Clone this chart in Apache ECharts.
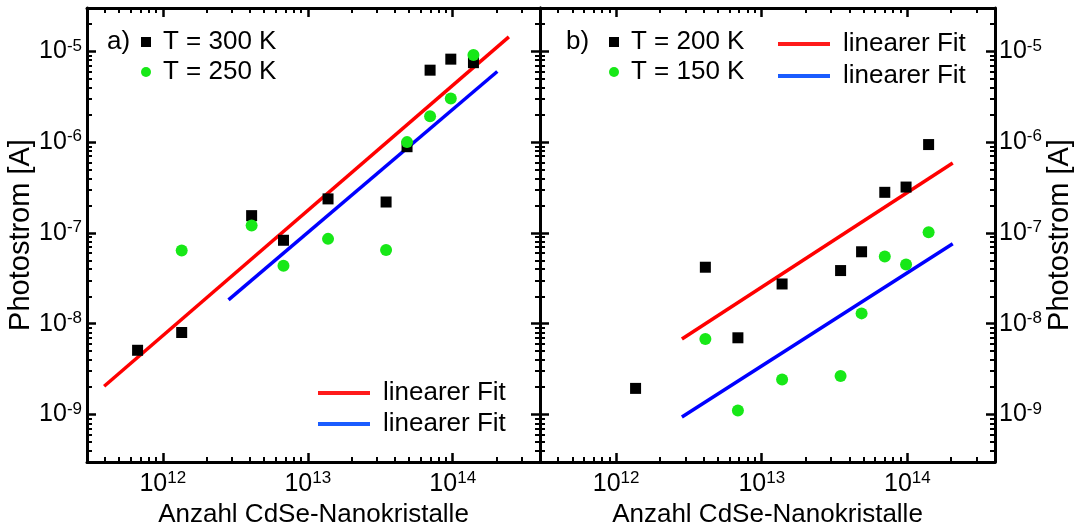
<!DOCTYPE html>
<html><head><meta charset="utf-8">
<script src="https://cdn.jsdelivr.net/npm/echarts@6/dist/echarts.min.js"></script>
<style>html,body{margin:0;padding:0;background:#fff}#c{width:1076px;height:528px}</style>
</head><body><div id="c"></div>
<script>
const FONT = '"Liberation Sans", Arial, Helvetica, sans-serif';

// ---- axis ranges and ticks ----
const xRange = [3e11, 4e14];
const yRange = [3e-10, 3e-5];
const xMajorTicks = [1e12, 1e13, 1e14];
const xMinorTicks = [4e11, 5e11, 6e11, 7e11, 8e11, 9e11,
  2e12, 3e12, 4e12, 5e12, 6e12, 7e12, 8e12, 9e12,
  2e13, 3e13, 4e13, 5e13, 6e13, 7e13, 8e13, 9e13,
  2e14, 3e14];
const yMajorTicks = [1e-9, 1e-8, 1e-7, 1e-6, 1e-5];
const yMinorTicks = [4e-10, 5e-10, 6e-10, 7e-10, 8e-10, 9e-10,
  2e-9, 3e-9, 4e-9, 5e-9, 6e-9, 7e-9, 8e-9, 9e-9,
  2e-8, 3e-8, 4e-8, 5e-8, 6e-8, 7e-8, 8e-8, 9e-8,
  2e-7, 3e-7, 4e-7, 5e-7, 6e-7, 7e-7, 8e-7, 9e-7,
  2e-6, 3e-6, 4e-6, 5e-6, 6e-6, 7e-6, 8e-6, 9e-6,
  2e-5];

// ---- panel a) data ----
const xA300 = [6.7e11, 1.35e12, 4.1e12, 6.8e12, 1.38e13, 3.47e13, 4.84e13, 6.98e13, 9.7e13, 1.39e14];
const yA300 = [5.1e-9, 8.0e-9, 1.55e-7, 8.3e-8, 2.37e-7, 2.19e-7, 8.9e-7, 6.2e-6, 8.2e-6, 7.5e-6];
const xA250 = [1.35e12, 4.1e12, 6.8e12, 1.38e13, 3.47e13, 4.84e13, 6.98e13, 9.7e13, 1.39e14];
const yA250 = [6.4e-8, 1.21e-7, 4.35e-8, 8.6e-8, 6.5e-8, 1.0e-6, 1.93e-6, 3.03e-6, 9.1e-6];
const fitA300x = [3.94e11, 2.44e14];
const fitA300y = [2.05e-9, 1.44e-5];
const fitA250x = [2.84e12, 2.03e14];
const fitA250y = [1.83e-8, 6.0e-6];

// ---- panel b) data ----
const xB200 = [1.36e12, 4.1e12, 6.86e12, 1.38e13, 3.48e13, 4.85e13, 7.0e13, 9.8e13, 1.4e14];
const yB200 = [1.94e-9, 4.19e-8, 7.0e-9, 2.74e-8, 3.85e-8, 6.2e-8, 2.8e-7, 3.2e-7, 9.4e-7];
const xB150 = [4.1e12, 6.86e12, 1.38e13, 3.48e13, 4.85e13, 7.0e13, 9.8e13, 1.4e14];
const yB150 = [6.8e-9, 1.11e-9, 2.43e-9, 2.65e-9, 1.30e-8, 5.5e-8, 4.5e-8, 1.02e-7];
const fitB200x = [2.83e12, 2.05e14];
const fitB200y = [6.8e-9, 5.9e-7];
const fitB150x = [2.83e12, 2.05e14];
const fitB150y = [9.4e-10, 7.6e-8];

const labelsText = {
  xTitle: 'Anzahl CdSe-Nanokristalle',
  yTitle: 'Photostrom [A]',
  fit: 'linearer Fit',
  a: 'a)', b: 'b)'
};

function zip(xs, ys) { return xs.map((x, i) => [x, ys[i]]); }

const supRich = {
  b: { fontSize: 25, lineHeight: 28, fontFamily: FONT, color: '#000' },
  s: { fontSize: 17, lineHeight: 17, verticalAlign: 'top', fontFamily: FONT, color: '#000' }
};
function powLabel(v) {
  const e = Math.round(Math.log10(v));
  return '{b|10}{s|' + e + '}';
}

function mkAxis(kind, grid, pos, major, opts) {
  const range = kind === 'x' ? xRange : yRange;
  const ticks = major ? (kind === 'x' ? xMajorTicks : yMajorTicks) : (kind === 'x' ? xMinorTicks : yMinorTicks);
  const a = {
    type: 'log', logBase: 10, gridIndex: grid, position: pos,
    min: range[0], max: range[1],
    axisLine: { show: major, onZero: false, lineStyle: { color: '#000', width: 3 } },
    axisTick: { show: true, inside: true, length: major ? 9 : 5, customValues: ticks,
      lineStyle: { color: '#000', width: major ? 2.5 : 2 } },
    axisLabel: { show: false },
    splitLine: { show: false }, minorTick: { show: false }, minorSplitLine: { show: false }
  };
  if (opts && opts.labels) {
    a.axisLabel = { show: true, customValues: ticks, formatter: powLabel, rich: supRich,
      margin: opts.margin, hideOverlap: false };
  }
  if (opts && opts.name) {
    a.name = opts.name; a.nameLocation = 'middle'; a.nameGap = opts.nameGap;
    a.nameTextStyle = { fontSize: opts.nameSize, fontFamily: FONT, color: '#000' };
  }
  return a;
}

const xAxes = [
  mkAxis('x', 0, 'bottom', true, { labels: true, margin: 8, name: labelsText.xTitle, nameGap: 35, nameSize: 26 }),
  mkAxis('x', 1, 'bottom', true, { labels: true, margin: 8, name: labelsText.xTitle, nameGap: 35, nameSize: 26 }),
  mkAxis('x', 0, 'bottom', false), mkAxis('x', 0, 'top', true), mkAxis('x', 0, 'top', false),
  mkAxis('x', 1, 'bottom', false), mkAxis('x', 1, 'top', true), mkAxis('x', 1, 'top', false)
];
const yAxes = [
  mkAxis('y', 0, 'left', true, { labels: true, margin: 5, name: labelsText.yTitle, nameGap: 51, nameSize: 29 }),
  mkAxis('y', 1, 'right', true, { labels: true, margin: 4, name: labelsText.yTitle, nameGap: 50, nameSize: 29 }),
  mkAxis('y', 0, 'left', false), mkAxis('y', 0, 'right', true), mkAxis('y', 0, 'right', false),
  mkAxis('y', 1, 'left', false), mkAxis('y', 1, 'left', true), mkAxis('y', 1, 'right', false)
];

const GREEN = '#17e817';
function scatter(name, g, sym, color, xs, ys) {
  return { type: 'scatter', name, xAxisIndex: g, yAxisIndex: g, symbol: sym, symbolSize: sym === 'rect' ? 11 : 12,
    itemStyle: { color, opacity: 1 }, data: zip(xs, ys), z: 5, animation: false };
}
function fit(name, g, color, xs, ys) {
  return { type: 'line', name, xAxisIndex: g, yAxisIndex: g, symbol: 'none', showSymbol: false,
    lineStyle: { color, width: 3.5 }, itemStyle: { color }, data: zip(xs, ys), z: 3, animation: false, silent: true };
}

const legendText = { fontSize: 26, fontFamily: FONT, color: '#000' };
const fitFormatter = n => n.indexOf(labelsText.fit) === 0 ? labelsText.fit : n;
const LEG_RED = '#ff1a1a', LEG_BLUE = '#1a5cff';

function fitLegend(names, left, top, gap) {
  return { data: [ { name: names[0], itemStyle: { color: LEG_RED } }, { name: names[1], itemStyle: { color: LEG_BLUE } } ],
    orient: 'vertical', left, top, padding: 0, icon: 'rect', symbolKeepAspect: false,
    itemWidth: 52, itemHeight: 4, itemGap: gap, selectedMode: false, formatter: fitFormatter,
    textStyle: Object.assign({ padding: [0, 0, 0, 8] }, legendText) };
}
function dotLegend(names, left, top) {
  return { data: names, orient: 'vertical', left, top, padding: 0,
    itemWidth: 10, itemHeight: 10, itemGap: 4, selectedMode: false,
    textStyle: Object.assign({ padding: [0, 0, 0, 7] }, legendText) };
}

const option = {
  backgroundColor: '#fff',
  animation: false,
  grid: [
    { left: 87, top: 8, width: 453, height: 454, containLabel: false, outerBoundsMode: 'none' },
    { left: 540, top: 8, width: 455, height: 454, containLabel: false, outerBoundsMode: 'none' }
  ],
  xAxis: xAxes,
  yAxis: yAxes,
  legend: [
    dotLegend(['T = 300 K', 'T = 250 K'], 141, 29),
    fitLegend(['linearer Fit (300 K)', 'linearer Fit (250 K)'], 318, 380, 5),
    dotLegend(['T = 200 K', 'T = 150 K'], 609, 29),
    fitLegend(['linearer Fit (200 K)', 'linearer Fit (150 K)'], 778, 31, 6)
  ],
  graphic: [
    { type: 'text', left: 107, top: 29, style: { text: labelsText.a, font: '26px ' + FONT, fill: '#000' } },
    { type: 'text', left: 566, top: 29, style: { text: labelsText.b, font: '26px ' + FONT, fill: '#000' } }
  ],
  series: [
    fit('linearer Fit (300 K)', 0, '#ff0000', fitA300x, fitA300y),
    fit('linearer Fit (250 K)', 0, '#0000ff', fitA250x, fitA250y),
    scatter('T = 300 K', 0, 'rect', '#000', xA300, yA300),
    scatter('T = 250 K', 0, 'circle', GREEN, xA250, yA250),
    fit('linearer Fit (200 K)', 1, '#ff0000', fitB200x, fitB200y),
    fit('linearer Fit (150 K)', 1, '#0000ff', fitB150x, fitB150y),
    scatter('T = 200 K', 1, 'rect', '#000', xB200, yB200),
    scatter('T = 150 K', 1, 'circle', GREEN, xB150, yB150)
  ]
};
const chart = echarts.init(document.getElementById('c'), null, { renderer: 'canvas' });
chart.setOption(option);
</script></body></html>
